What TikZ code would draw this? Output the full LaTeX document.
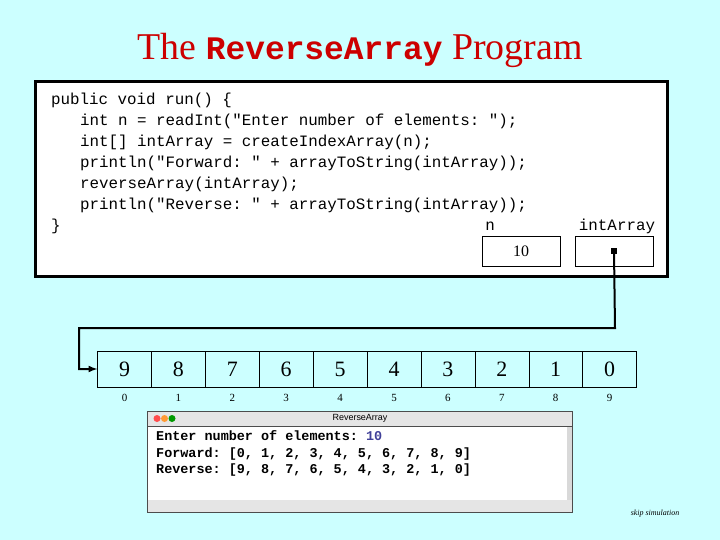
\documentclass[tikz,border=0pt]{standalone}
\usepackage{fontspec}
\setmainfont{Liberation Serif}
\setmonofont{Liberation Mono}
\setsansfont{Liberation Sans}
\definecolor{bgcyan}{rgb}{0.8,1,1}
\definecolor{inblue}{rgb}{0.25,0.25,0.6}
\definecolor{titlered}{rgb}{0.8,0,0}
\tikzset{
  cell/.style={draw,minimum width=53.9bp,minimum height=36bp,inner sep=0pt,font=\fontsize{22}{22}\selectfont},
  varbox/.style={draw,minimum width=78bp,minimum height=30bp,inner sep=0pt,font=\fontsize{16}{16}\selectfont},
  codeline/.style={anchor=base west,inner sep=0pt,font=\ttfamily\fontsize{15.9}{16}\selectfont},
  conline/.style={anchor=base west,inner sep=0pt,font=\ttfamily\bfseries\fontsize{13.5}{13.5}\selectfont}
}
\begin{document}
\begin{tikzpicture}[x=1bp,y=-1bp]
\fill[bgcyan] (0,0) rectangle (720,540);
\useasboundingbox (0,0) rectangle (720,540);
\node[titlered] (title) at (360,50) {\fontsize{38}{38}\selectfont The \texttt{\bfseries\fontsize{33}{33}\selectfont ReverseArray} Program};
% code window
\draw[line width=3bp,fill=white] (35,82) rectangle (667,276);
\node[codeline] (c1) at (51,105) {public void run() \{};
\foreach \t [count=\i from 2] in {{int n = readInt("Enter number of elements: ");},
  {int[] intArray = createIndexArray(n);},
  {println("Forward: " + arrayToString(intArray));},
  {reverseArray(intArray);},
  {println("Reverse: " + arrayToString(intArray));}}
  \node[codeline] (c\i) at (80,84+21*\i) {\t};
\node[codeline] (c7) at (51,231) {\}};
% variables
\node[varbox] (n) at (521,251) {10};
\node[varbox] (arr) at (614,251) {};
\node[codeline,anchor=base] (nlab) at (490,231) {n};
\node[codeline,anchor=base] (alab) at (617,231) {intArray};
\fill (arr.center) ++(-3,-3) rectangle ++(6,6);
% array
\foreach \v [count=\i from 0] in {9,8,7,6,5,4,3,2,1,0} {
  \node[cell] (a\i) at (124.5+53.9*\i,369) {\v};
  \node[font=\fontsize{11}{11}\selectfont] (ix\i) at (124.5+53.9*\i,398) {\i};
}
\coordinate (bend1) at (615,328);
\coordinate (bend2) at (79,328);
\draw[line width=2bp,-latex] (arr.center) -- (bend1) -- (bend2) |- (a0.west);
% console
\draw[black!70,fill=white] (147.5,411) rectangle (572,512);
\fill[black!10] (148,411.5) rectangle (571.5,426);
\draw[black!70] (147.5,426) -- (572,426);
\fill[black!10] (148,500) rectangle (571.5,511.5);
\fill[black!15] (567,427) rectangle (571.5,500);
\foreach \c/\x in {red!70/157,orange!80/164.5,green!60!black/172}
  \fill[\c] (\x,418.5) circle (3.5bp);
\node[font=\sffamily\fontsize{9}{9}\selectfont] (wtitle) at (360,418.5) {ReverseArray};
\node[conline] (o1) at (156,440) {Enter number of elements: \textcolor{inblue}{10}};
\node[conline] (o2) at (156,457) {Forward: [0, 1, 2, 3, 4, 5, 6, 7, 8, 9]};
\node[conline] (o3) at (156,473) {Reverse: [9, 8, 7, 6, 5, 4, 3, 2, 1, 0]};
\node[font=\itshape\fontsize{8}{8}\selectfont] (skip) at (655,514) {skip simulation};
\end{tikzpicture}
\end{document}
